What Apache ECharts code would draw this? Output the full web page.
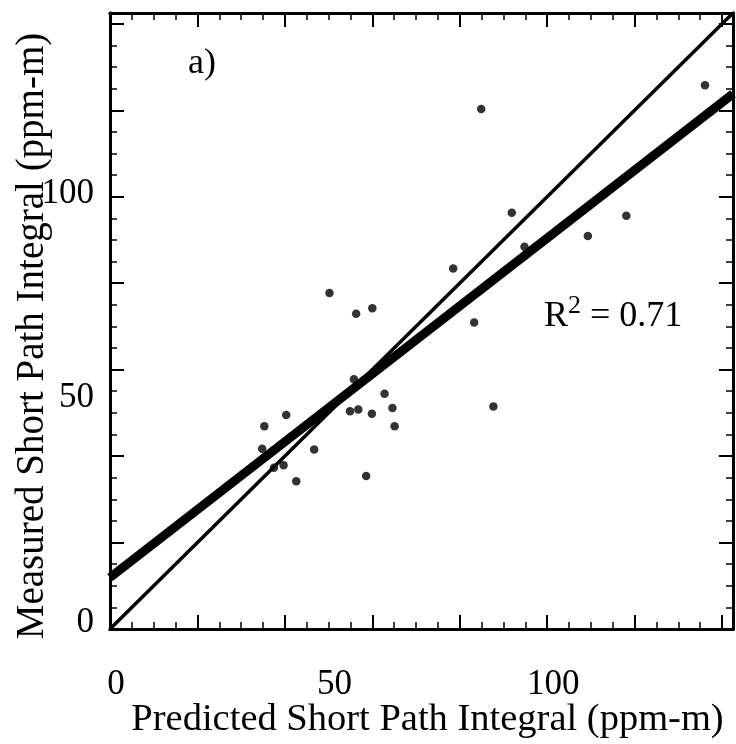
<!DOCTYPE html>
<html>
<head>
<meta charset="utf-8">
<script src="https://cdn.jsdelivr.net/npm/echarts@6/dist/echarts.min.js"></script>
<style>
html,body{margin:0;padding:0;background:#fff;}
#chart{width:736px;height:744px;}
</style>
</head>
<body>
<div id="chart"></div>
<script>
// Predicted (x) vs measured (y) short path integral, ppm-m
var predicted = [78.5, 50.2, 56.3, 60.0, 83.3, 55.8, 62.8, 64.6, 87.7, 54.9, 56.8, 59.9, 65.1, 40.3, 35.3, 34.8, 46.7, 39.7, 37.5, 42.6, 58.6, 136.1, 84.9, 91.9, 109.3, 118.1, 94.8];
var measured  = [83.4, 77.7, 72.9, 74.2, 70.9, 57.8, 54.4, 51.1, 51.5, 50.4, 50.8, 49.8, 46.9, 49.5, 46.9, 41.7, 41.5, 37.9, 37.3, 34.2, 35.4, 125.8, 120.3, 96.3, 90.9, 95.6, 88.4];
var identityLine = [[0, 0], [142.5, 142.5]];
var fitLine = [[0, 11.9], [142.5, 123.8]];
var tickLabels = [0, 50, 100];
var axisMax = 142.5;
var annotationText = 'a)';
var r2Value = '0.71';

var FONT = 'Liberation Serif';
var BLACK = '#000';

var points = predicted.map(function (x, i) { return [x, measured[i]]; });

function baseAxis(pos, interval, extra) {
  var a = {
    type: 'value', position: pos, min: 0, max: axisMax, interval: interval,
    axisLine: { show: false, onZero: false },
    axisTick: { show: false },
    axisLabel: { show: false },
    splitLine: { show: false }
  };
  for (var k in extra) a[k] = extra[k];
  return a;
}
function tickAxis(pos, interval, len, w, extra) {
  var a = baseAxis(pos, interval, {
    axisLine: { show: true, onZero: false, lineStyle: { color: BLACK, width: 3 } },
    axisTick: { show: true, inside: true, length: len, lineStyle: { color: BLACK, width: w } }
  });
  for (var k in extra) a[k] = extra[k];
  return a;
}

var xLabelRich = { t: { fontFamily: FONT, fontSize: 35, color: BLACK, padding: [0, 0, 0, 12] } };
var yLabelRich = {
  l0: { fontFamily: FONT, fontSize: 35, color: BLACK, padding: [0, 0, 12, 0] },
  l50: { fontFamily: FONT, fontSize: 35, color: BLACK, padding: [0, 0, 30, 0] },
  l100: { fontFamily: FONT, fontSize: 35, color: BLACK, padding: [0, 0, 5, 0] }
};

var chart = echarts.init(document.getElementById('chart'));
chart.setOption({
  backgroundColor: '#fff',
  animation: false,
  grid: { left: 110, right: 3, top: 13, bottom: 112, containLabel: false },
  xAxis: [
    tickAxis('bottom', 20, 14, 2, {
      name: 'Predicted Short Path Integral (ppm-m)', nameLocation: 'middle', nameGap: 71,
      nameTextStyle: { color: BLACK, fontFamily: FONT, fontSize: 38.5, padding: [0, 0, 0, 12] }
    }),
    tickAxis('bottom', 5, 7, 1.5, {}),
    baseAxis('bottom', 50, {
      axisLabel: {
        show: true, margin: 38, rich: xLabelRich,
        formatter: function (v) { return tickLabels.indexOf(v) >= 0 ? '{t|' + v + '}' : ''; }
      }
    }),
    tickAxis('top', 20, 14, 2, {}),
    tickAxis('top', 5, 7, 1.5, {})
  ],
  yAxis: [
    tickAxis('left', 20, 14, 2, {
      name: 'Measured Short Path Integral (ppm-m)', nameLocation: 'middle', nameGap: 58,
      nameTextStyle: { color: BLACK, fontFamily: FONT, fontSize: 39, padding: [0, 30, 0, 0] }
    }),
    tickAxis('left', 5, 7, 1.5, {}),
    baseAxis('left', 50, {
      axisLabel: {
        show: true, margin: 16, rich: yLabelRich,
        formatter: function (v) { return tickLabels.indexOf(v) >= 0 ? '{l' + v + '|' + v + '}' : ''; }
      }
    }),
    tickAxis('right', 20, 14, 2, {}),
    tickAxis('right', 5, 7, 1.5, {})
  ],
  series: [
    {
      type: 'line', xAxisIndex: 0, yAxisIndex: 0, data: identityLine, showSymbol: false, symbol: 'none',
      lineStyle: { color: BLACK, width: 3.5 }, silent: true, z: 2
    },
    {
      type: 'line', xAxisIndex: 0, yAxisIndex: 0, data: fitLine, showSymbol: false, symbol: 'none',
      lineStyle: { color: BLACK, width: 9 }, silent: true, z: 2
    },
    {
      type: 'scatter', xAxisIndex: 0, yAxisIndex: 0, data: points, symbol: 'circle', symbolSize: 8.5,
      itemStyle: { color: BLACK }, z: 3
    }
  ],
  graphic: [
    {
      type: 'text', left: 188, top: 46,
      style: { text: annotationText, font: '36px "Liberation Serif"', fill: BLACK }
    },
    {
      type: 'text', left: 544, top: 293,
      style: {
        text: '{r|R}{s|2}{r| = ' + r2Value + '}',
        rich: {
          r: { fontFamily: FONT, fontSize: 36, fill: BLACK, color: BLACK, verticalAlign: 'bottom', lineHeight: 42 },
          s: { fontFamily: FONT, fontSize: 26, fill: BLACK, color: BLACK, verticalAlign: 'top', lineHeight: 42, padding: [0, 0, 14, 0] }
        }
      }
    }
  ]
});
</script>
</body>
</html>
